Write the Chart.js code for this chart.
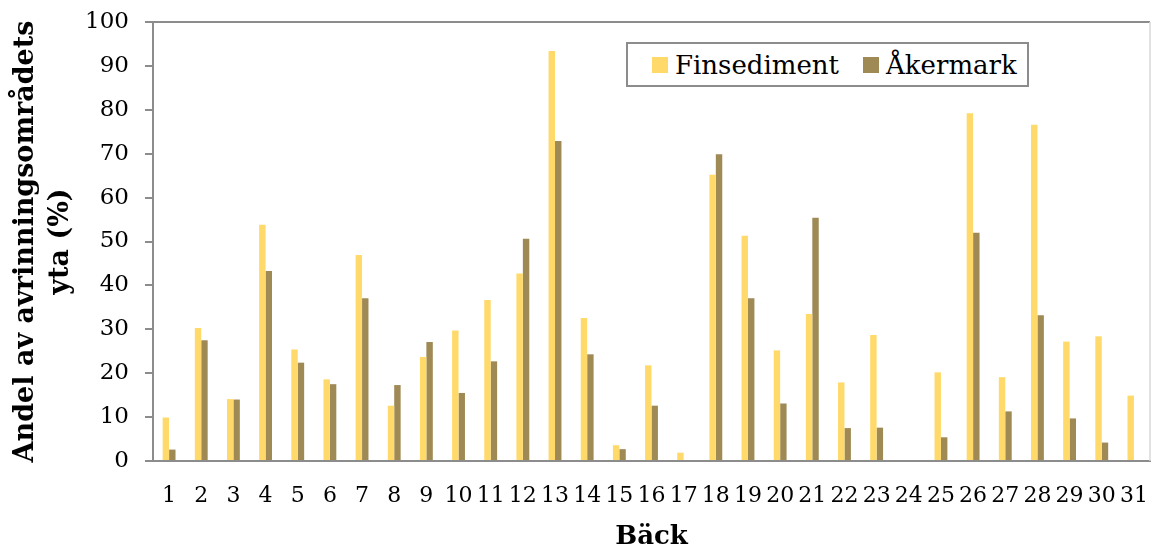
<!DOCTYPE html>
<html>
<head>
<meta charset="utf-8">
<script src="https://cdn.jsdelivr.net/npm/chart.js@4/dist/chart.umd.min.js"></script>
<style>
body{margin:0;background:#fff;}
#wrap{position:relative;width:1151px;height:548px;}
#legend{position:absolute;left:626px;top:42px;width:399px;height:41px;border:2px solid #8c8c8c;background:#fff;
font-family:"DejaVu Serif",serif;font-size:26px;color:#000;display:flex;align-items:center;}
.item{display:flex;align-items:center;margin-left:24px;}
.item + .item{margin-left:24px;}
.sw{width:16px;height:16px;margin-right:7px;}
</style>
</head>
<body>
<div id="wrap">
<canvas id="c" width="1151" height="548"></canvas>
<div id="legend"></div>
</div>
<script>
const backar=["1","2","3","4","5","6","7","8","9","10","11","12","13","14","15","16","17","18","19","20","21","22","23","24","25","26","27","28","29","30","31"];

const finsediment=[9.9,30.3,14.1,53.8,25.4,18.6,46.9,12.6,23.7,29.7,36.7,42.7,93.4,32.6,3.6,21.8,1.9,65.2,51.3,25.2,33.5,17.9,28.7,0,20.2,79.2,19.1,76.6,27.2,28.4,14.9]
const akermark=[2.6,27.5,14.0,43.3,22.4,17.5,37.1,17.3,27.1,15.5,22.7,50.6,72.9,24.3,2.7,12.6,0,69.9,37.1,13.1,55.4,7.5,7.6,0,5.4,52.0,11.3,33.2,9.7,4.2,0]

const yTitle=["Andel av avrinningsområdets","yta (%)"];

const serif='"DejaVu Serif", serif';
const gray='#8c8c8c';

// light frame line on the right
const rightLine={
  id:'rightLine',
  afterDraw(chart){
    const a=chart.chartArea, ctx=chart.ctx;
    ctx.save();
    ctx.strokeStyle='#d9d9d9';
    ctx.lineWidth=1.5;
    ctx.beginPath();
    ctx.moveTo(a.right,a.top);
    ctx.lineTo(a.right,a.bottom);
    ctx.stroke();
    ctx.restore();
  }
};

const myChart=new Chart(document.getElementById("c"),
{
  type:'bar',
  data:{
    labels:backar,
    datasets:[
      {label:'Finsediment',data:finsediment,backgroundColor:'#ffda6a',categoryPercentage:0.4,barPercentage:1},
      {label:'Åkermark',data:akermark,backgroundColor:'#9f8a55',categoryPercentage:0.4,barPercentage:1}
    ]},
  options:{
    responsive:false,
    animation:false,
    layout:{padding:{top:22,right:1,left:0,bottom:0}},
    plugins:{legend:{display:false},tooltip:{enabled:false}},
    scales:{
      x:{
        grid:{display:false},
        border:{color:gray,width:2},
        ticks:{color:'#000',font:{family:serif,size:22},padding:14,maxRotation:0,autoSkip:false},
        title:{display:true,text:'Bäck',color:'#000',font:{family:serif,size:26,weight:'bold',lineHeight:0.85},padding:{top:0,bottom:0}},
        afterFit(s){s.height=87;s.paddingLeft=0;s.paddingRight=0;}
      },
      y:{
        min:0,max:100,
        ticks:{stepSize:10,color:'#000',font:{family:serif,size:23},padding:16},
        grid:{color:c=>c.tick && c.tick.value===100?gray:'rgba(0,0,0,0)',tickColor:gray,lineWidth:2,tickLength:8},
        border:{color:gray,width:2},
        title:{display:true,text:yTitle,color:'#000',font:{family:serif,size:27,weight:'bold',lineHeight:1.3},padding:{top:8,bottom:0}},
        afterFit(s){s.width=153;s.paddingTop=0;s.paddingBottom=0;}
      }
    }
  },
  plugins:[rightLine]
});

const leg=document.getElementById('legend');
myChart.data.datasets.forEach(d=>{
  const it=document.createElement('div');
  it.className='item';
  it.innerHTML='<span class="sw" style="background:'+d.backgroundColor+'"></span><span>'+d.label+'</span>';
  leg.appendChild(it);
});
</script>
</body>
</html>
